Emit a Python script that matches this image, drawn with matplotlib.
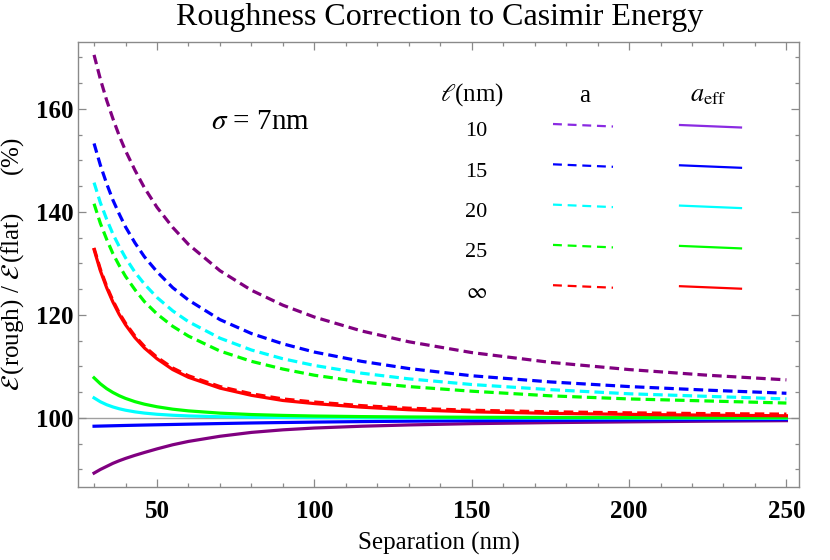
import matplotlib
matplotlib.use('Agg')
import matplotlib.pyplot as plt
from matplotlib.ticker import MultipleLocator, FixedLocator

plt.rcParams['font.family'] = ['Liberation Serif', 'DejaVu Serif']
plt.rcParams['mathtext.fontset'] = 'stix'

# ---------------- data ----------------
separation = [30, 32, 34, 36, 38, 40, 43, 46, 50, 55, 60, 70, 80, 90, 100,
              115, 130, 150, 175, 200, 225, 250]

# E(rough)/E(flat) in %, using a (dashed)
a_l10 = [170.5, 165.8, 161.7, 158.1, 154.8, 151.9, 148.1, 144.7, 140.9, 137.0, 133.7,
         128.6, 124.8, 121.9, 119.6, 116.9, 114.8, 112.7, 110.8, 109.4, 108.3, 107.4]
a_l15 = [153.3, 149.1, 145.5, 142.3, 139.6, 137.1, 134.0, 131.3, 128.4, 125.3, 122.9,
         119.1, 116.4, 114.4, 112.8, 111.0, 109.6, 108.2, 107.0, 106.1, 105.4, 104.8]
a_l20 = [145.7, 141.8, 138.6, 135.7, 133.3, 131.1, 128.3, 126.0, 123.4, 120.8, 118.7,
         115.5, 113.2, 111.5, 110.2, 108.7, 107.6, 106.5, 105.5, 104.7, 104.2, 103.7]
a_l25 = [141.6, 137.8, 134.7, 131.9, 129.6, 127.5, 124.9, 122.6, 120.2, 117.8, 115.9,
         113.0, 111.0, 109.5, 108.3, 107.0, 106.1, 105.2, 104.3, 103.7, 103.3, 102.9]
a_inf = [133.0, 128.9, 125.6, 122.8, 120.4, 118.4, 115.9, 113.9, 111.8, 109.7, 108.2,
         106.1, 104.7, 103.7, 103.1, 102.4, 101.9, 101.5, 101.2, 101.0, 100.85, 100.75]

# E(rough)/E(flat) in %, using a_eff (solid)
aeff_l10 = [89.3, 90.0, 90.6, 91.2, 91.7, 92.15, 92.75, 93.3, 94.0, 94.8, 95.45,
            96.45, 97.2, 97.7, 98.05, 98.4, 98.65, 98.9, 99.1, 99.25, 99.38, 99.48]
aeff_l15 = [98.4, 98.43, 98.46, 98.49, 98.52, 98.55, 98.59, 98.63, 98.68, 98.74, 98.8,
            98.92, 99.03, 99.12, 99.2, 99.3, 99.38, 99.47, 99.55, 99.61, 99.66, 99.7]
aeff_l20 = [103.9, 103.15, 102.58, 102.14, 101.79, 101.51, 101.19, 100.95, 100.72, 100.53, 100.40,
            100.24, 100.15, 100.10, 100.07, 100.04, 100.02, 100.0, 99.98, 99.97, 99.96, 99.95]
aeff_l25 = [107.8, 106.64, 105.70, 104.95, 104.32, 103.80, 103.17, 102.68, 102.18, 101.71, 101.38,
            100.94, 100.67, 100.50, 100.38, 100.27, 100.20, 100.14, 100.10, 100.07, 100.05, 100.04]
aeff_inf = [132.7, 128.6, 125.3, 122.5, 120.1, 118.1, 115.6, 113.6, 111.5, 109.4, 107.9,
            105.8, 104.4, 103.4, 102.8, 102.1, 101.6, 101.2, 100.9, 100.7, 100.55, 100.43]

ell_labels = ['10', '15', '20', '25', r'$\infty$']
curve_colors = ['#800080', '#0000ff', '#00ffff', '#00ff00', '#ff0000']
legend_colors = ['#8a2be2', '#0000ff', '#00ffff', '#00ff00', '#ff0000']
x_ticks = [50, 100, 150, 200, 250]
y_ticks = [100, 120, 140, 160]

a_series = [a_l10, a_l15, a_l20, a_l25, a_inf]
aeff_series = [aeff_l10, aeff_l15, aeff_l20, aeff_l25, aeff_inf]

# ---------------- figure ----------------
W, H = 830, 560
fig = plt.figure(figsize=(W / 100, H / 100), dpi=100)
L, R, T, B = 78, 799, 42, 487
ax = fig.add_axes([L / W, 1 - B / H, (R - L) / W, (B - T) / H])

gray = '#8a8a8a'
ax.axhline(100, color='#a0a0a0', lw=1.0, zorder=1)

dash = (0, (3.0, 1.6))
for ys, c in zip(a_series, curve_colors):
    ax.plot(separation, ys, color=c, lw=2.3, linestyle=dash, zorder=2)
for ys, c in zip(aeff_series, curve_colors):
    ax.plot(separation, ys, color=c, lw=2.3, zorder=3)

ax.set_xlim(24.9, 254)
ax.set_ylim(86.6, 173.0)

ax.xaxis.set_major_locator(FixedLocator(x_ticks))
ax.xaxis.set_minor_locator(MultipleLocator(10))
ax.yaxis.set_major_locator(FixedLocator(y_ticks))
ax.yaxis.set_minor_locator(MultipleLocator(5))
ax.tick_params(which='both', direction='in', top=True, right=True, color=gray, width=0.9)
ax.tick_params(which='major', length=5.5)
ax.tick_params(which='minor', length=3)
ax.tick_params(axis='x', which='major', pad=9, labelsize=18)
ax.tick_params(axis='y', which='major', pad=3, labelsize=18)
for lab in ax.get_xticklabels() + ax.get_yticklabels():
    lab.set_fontweight('bold')
for s in ax.spines.values():
    s.set_color(gray)
    s.set_linewidth(1.0)

ax.set_xlabel('Separation (nm)', fontsize=18)
ax.xaxis.label.set_va('center')
ax.xaxis.set_label_coords(0.5, (B - 543) / (B - T))
ax.set_ylabel(r'$\mathcal{E}\,$(rough) / $\mathcal{E}\,$(flat)      (%)', fontsize=18)
ax.yaxis.label.set_va('center')
ax.yaxis.set_label_coords((13 - L) / (R - L), 0.5)

fig.text(440 / W, 1 - 18 / H, 'Roughness Correction to Casimir Energy',
         ha='center', va='center', fontsize=23)

def fx(px):
    return (px - L) / (R - L)

def fy(py):
    return (B - py) / (B - T)

ax.text(fx(260), fy(122), r'$\sigma$ = 7nm', transform=ax.transAxes,
        ha='center', va='center', fontsize=21)

# custom legend table
ax.text(fx(472), fy(95), r'$\ell$(nm)', transform=ax.transAxes, ha='center', va='center', fontsize=18)
ax.text(fx(585), fy(96), 'a', transform=ax.transAxes, ha='center', va='center', fontsize=18)
ax.text(fx(708), fy(96), r'$a_{\rm eff}$', transform=ax.transAxes, ha='center', va='center', fontsize=19)
row0, row_step = 131, 40.3
for i, (lab, c) in enumerate(zip(ell_labels, legend_colors)):
    yc = row0 + i * row_step
    ax.text(fx(476), fy(yc + 1), lab, transform=ax.transAxes, ha='center', va='center', fontsize=16)
    ax.plot([fx(553), fx(613)], [fy(yc - 7), fy(yc - 4.5)], transform=ax.transAxes,
            color=c, lw=1.6, linestyle=(0, (4, 2.6)), clip_on=False)
    ax.plot([fx(680), fx(741)], [fy(yc - 6), fy(yc - 3.5)], transform=ax.transAxes,
            color=c, lw=1.6, clip_on=False)

fig.savefig('out.png', dpi=100)
